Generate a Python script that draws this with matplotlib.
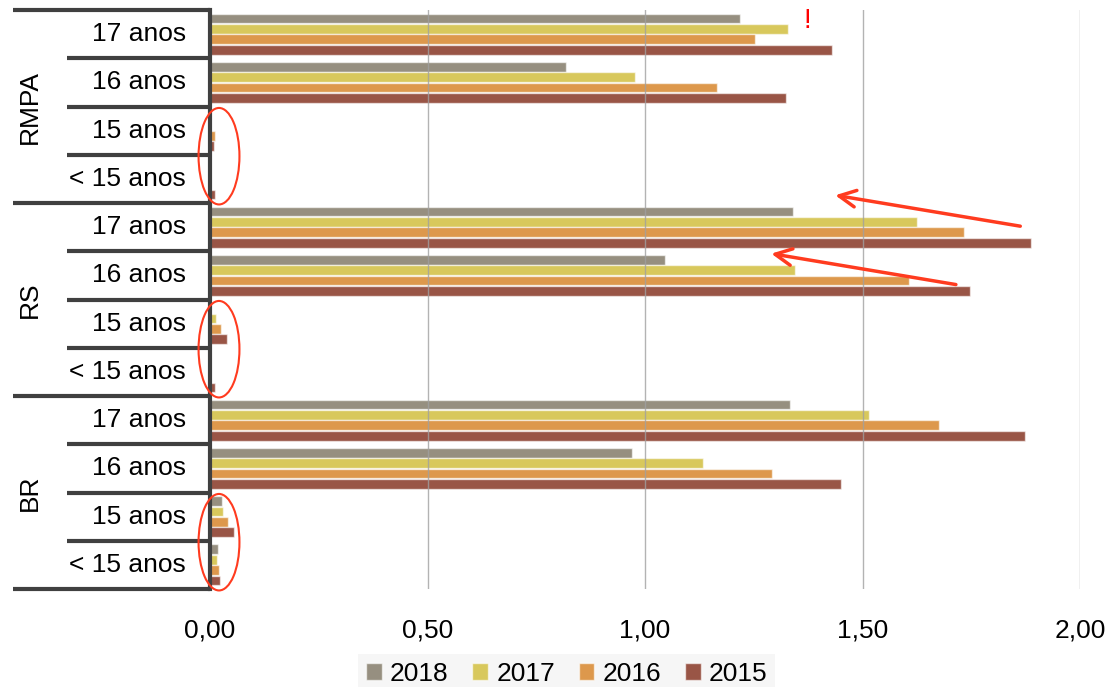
import numpy as np
import matplotlib
matplotlib.use("Agg")
import matplotlib.pyplot as plt
from matplotlib.patches import Ellipse, Patch
import matplotlib.transforms as mtransforms

plt.rcParams['font.family'] = ['Liberation Sans', 'DejaVu Sans']

# dados
grupos = ["RMPA", "RS", "BR"]
idades = ["17 anos", "16 anos", "15 anos", "< 15 anos"]
anos = ["2018", "2017", "2016", "2015"]
cores = ["#968f80", "#d8c85c", "#dd984c", "#995546"]

# valores por ano, na ordem RMPA(17,16,15,<15), RS(...), BR(...)
v2018 = [1.219, 0.819, 0.0, 0.0,   1.340, 1.046, 0.003, 0.0,   1.333, 0.971, 0.027, 0.018]
v2017 = [1.329, 0.977, 0.0, 0.0,   1.625, 1.345, 0.014, 0.0,   1.515, 1.133, 0.029, 0.017]
v2016 = [1.254, 1.166, 0.011, 0.0, 1.733, 1.606, 0.025, 0.0,   1.675, 1.293, 0.041, 0.021]
v2015 = [1.429, 1.325, 0.010, 0.012, 1.887, 1.746, 0.040, 0.012, 1.874, 1.450, 0.056, 0.024]
valores = [v2018, v2017, v2016, v2015]

xticks = [0.0, 0.5, 1.0, 1.5, 2.0]
xticklabels = ["0,00", "0,50", "1,00", "1,50", "2,00"]

fig = plt.figure(figsize=(11.09, 6.87), dpi=100)
ax = fig.add_axes([210/1109, 1 - 589/687, 870/1109, 579/687])

n = len(grupos) * len(idades)
pos = np.arange(n)
passo = 0.215
for i, (ano, vals) in enumerate(zip(anos, valores)):
    ax.barh(pos + (i - 1.5) * passo, vals, height=passo * 0.95, color=cores[i],
            edgecolor=(1, 1, 1, 0.6), linewidth=1, zorder=2, label=ano)

ax.set_xlim(0, 2.0)
ax.set_ylim(n - 0.5, -0.5)
ax.set_xticks(xticks)
ax.set_xticklabels(xticklabels, fontsize=19)
ax.tick_params(axis='x', length=0, pad=21)
ax.set_yticks([])
for x in xticks[1:]:
    ax.axvline(x, color='#a0a0a0', linewidth=1, alpha=0.8, zorder=3)

for s in ['top', 'right', 'bottom']:
    ax.spines[s].set_visible(False)
ax.spines['left'].set_linewidth(3)
ax.spines['left'].set_color('#404040')
ax.spines['left'].set_zorder(4)

# linhas e rotulos das categorias
trans = mtransforms.blended_transform_factory(ax.transAxes, ax.transData)
for k in range(n + 1):
    y = k - 0.5
    x0 = -0.2264 if k % 4 == 0 else -0.1644
    ax.plot([x0, 0], [y, y], color='#404040', linewidth=3, transform=trans,
            clip_on=False, solid_capstyle='butt')
for k in range(n):
    ax.text(-0.0276, k, idades[k % 4], transform=trans, ha='right', va='center',
            fontsize=19)
for g, nome in enumerate(grupos):
    ax.text(-0.207, g * 4 + 1.5, nome, transform=trans, ha='center', va='center',
            rotation=90, fontsize=19)

# marcacoes em vermelho
vermelho = '#ff3b1f'
for g in range(len(grupos)):
    ax.add_patch(Ellipse((0.0207, g * 4 + 2.53), 0.094, 2.0, fill=False,
                         edgecolor=vermelho, linewidth=1.5, clip_on=False, zorder=5))
ax.annotate("", xy=(1.431, 3.33), xytext=(1.869, 3.99),
            arrowprops=dict(arrowstyle='->', color=vermelho, lw=2.5,
                            mutation_scale=30))
ax.annotate("", xy=(1.284, 4.54), xytext=(1.721, 5.20),
            arrowprops=dict(arrowstyle='->', color=vermelho, lw=2.5,
                            mutation_scale=30))
ax.text(1.373, -0.27, "!", color='red', fontsize=20, ha='center', va='center')

# legenda
handles = [Patch(facecolor=c, edgecolor=(1, 1, 1, 0.6)) for c in cores]
leg = fig.legend(handles, anos, loc='lower center', bbox_to_anchor=(0.511, -0.029),
                 ncol=4, fontsize=19, frameon=True, fancybox=False,
                 handlelength=0.6, handleheight=0.6, handletextpad=0.3,
                 columnspacing=0.9, borderpad=0.3)
leg.get_frame().set_facecolor('#f4f4f4')
leg.get_frame().set_edgecolor('none')

fig.savefig("out.png", dpi=100)
